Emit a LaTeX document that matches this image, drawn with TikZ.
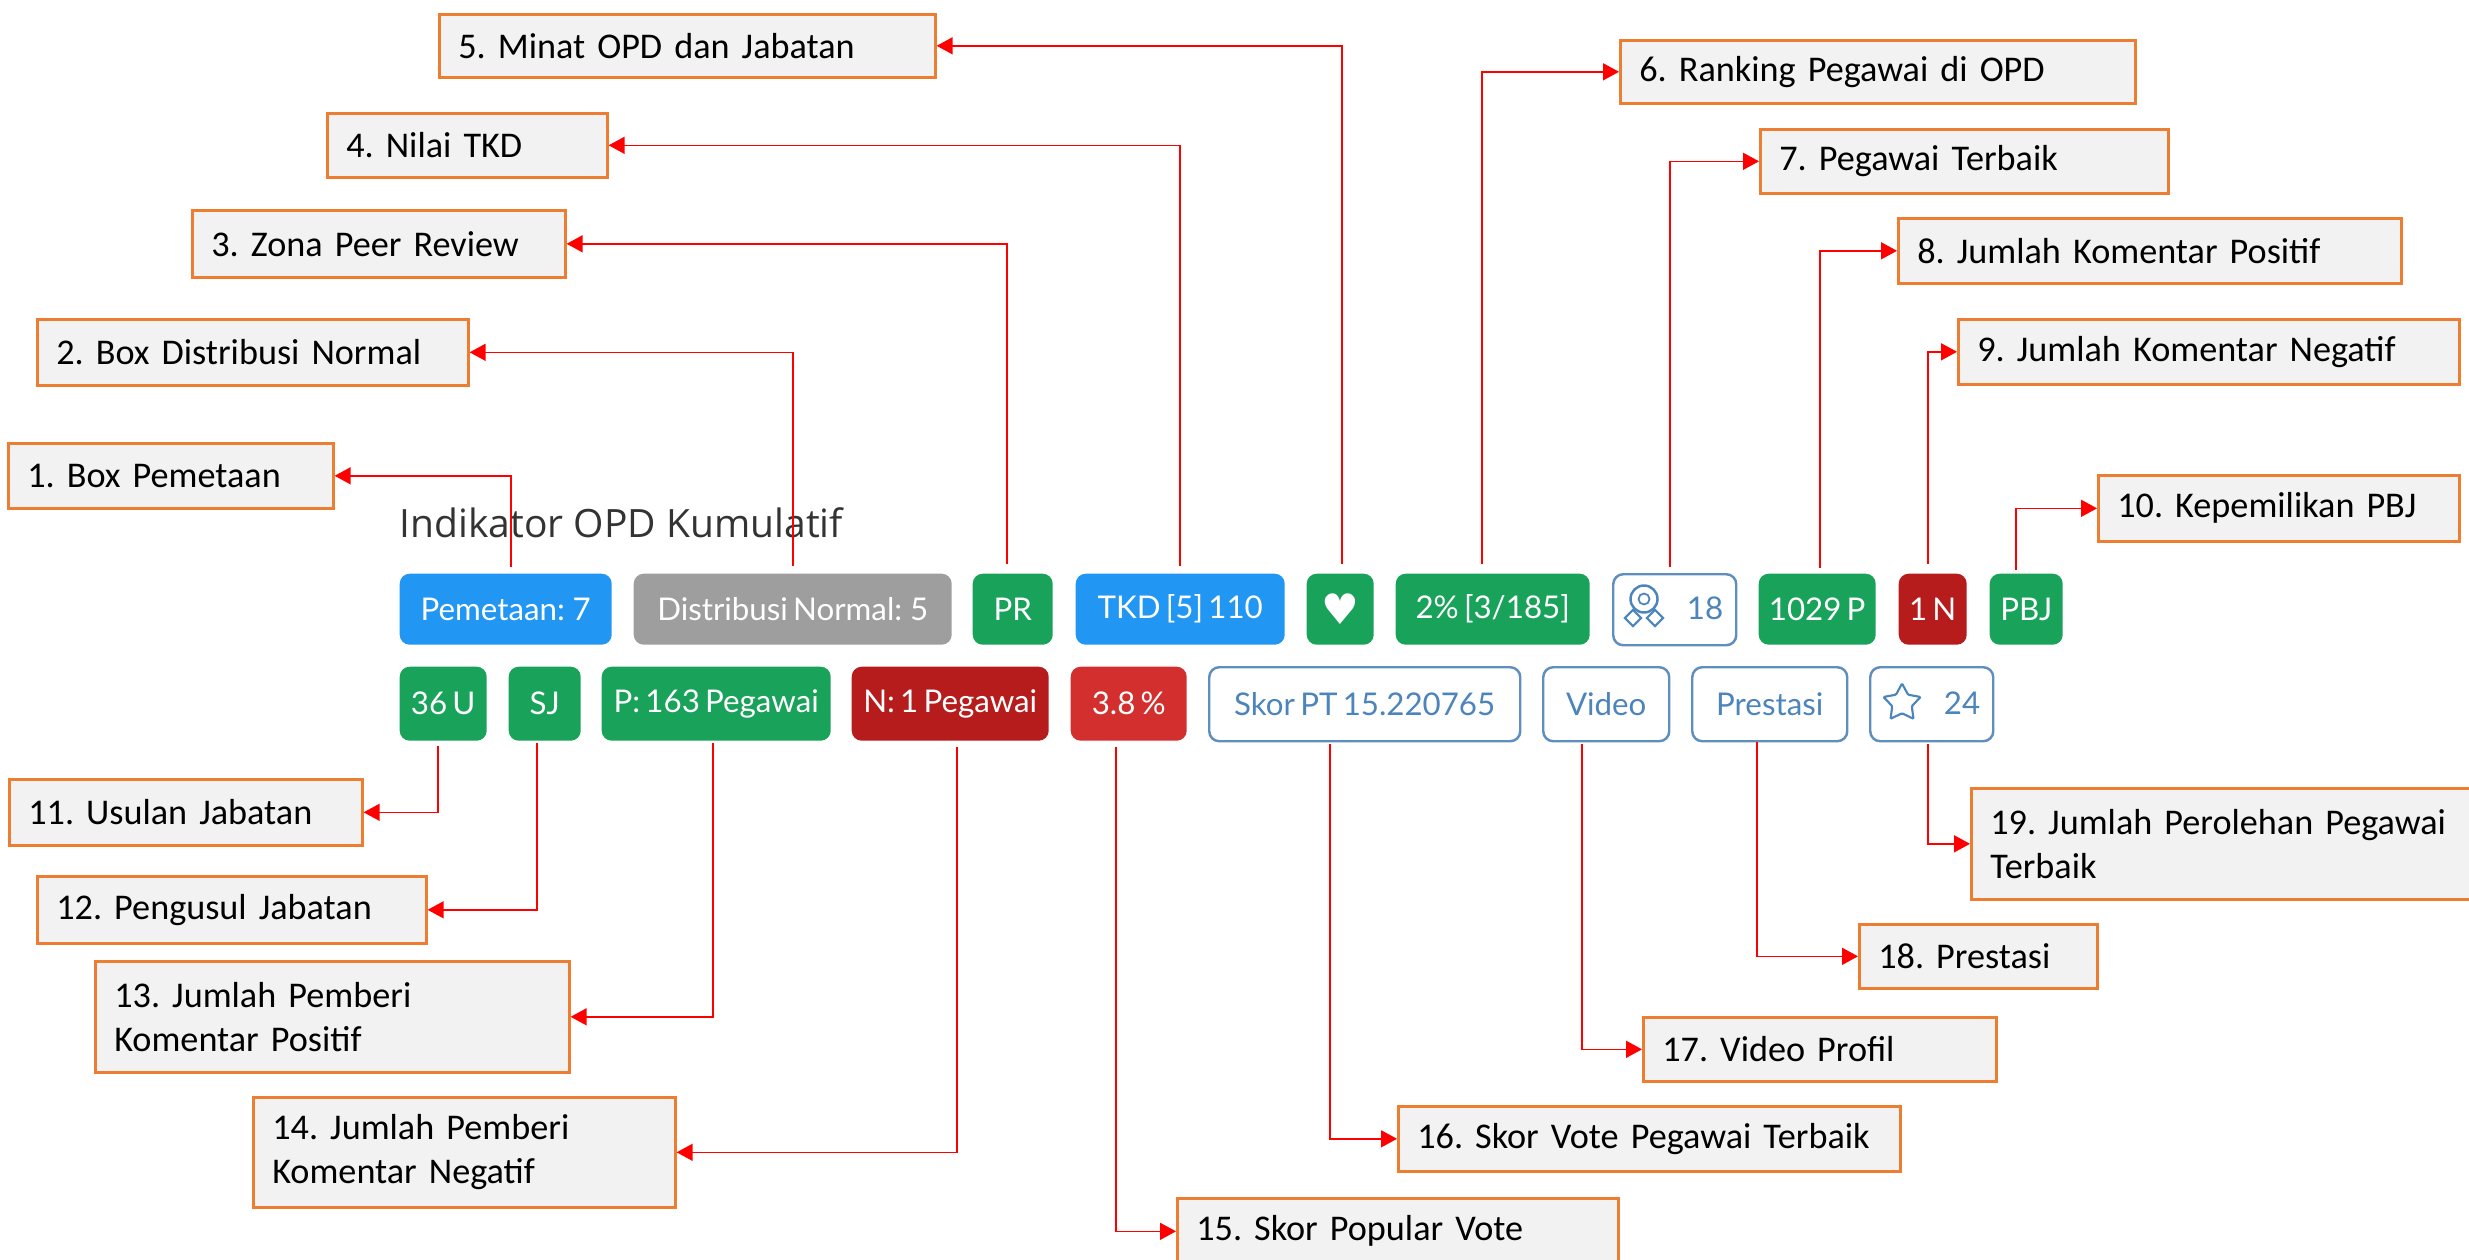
\documentclass[tikz,border=0pt]{standalone}
\usepackage{fontspec}
\setmainfont[WordSpace=0.7]{Carlito}
\newfontfamily\chipfont[WordSpace=0.65]{Lato}
\newfontfamily\titlefont{Open Sans}
\newfontfamily\symfont{DejaVu Sans}
\usepackage{xcolor}
\usepackage{tikz}
\usetikzlibrary{shapes}
\usetikzlibrary{calc}
\usetikzlibrary{arrows.meta}
\definecolor{boxfill}{HTML}{F2F2F2}
\definecolor{boxline}{HTML}{ED7D31}
\definecolor{chipblue}{HTML}{2196F3}
\definecolor{chipgray}{HTML}{9E9E9E}
\definecolor{chipgreen}{HTML}{19A25A}
\definecolor{chipdark}{HTML}{B71C1C}
\definecolor{chipred}{HTML}{D32F2F}
\definecolor{chipline}{HTML}{5F8FBF}
\definecolor{chiptext}{HTML}{4C84BC}
\tikzset{
  lbl/.style 2 args={draw=boxline,fill=boxfill,line width=0.75pt,anchor=north west,align=left,
    inner xsep=0.19cm,inner ysep=0pt,minimum width=#1cm,text width=#1cm-0.38cm,minimum height=#2cm,
    font=\frenchspacing\fontsize{10.3}{12.5}\selectfont},
  chip/.style 2 args={rounded corners=0.1cm,anchor=north west,inner sep=0pt,minimum width=#1cm,minimum height=#2cm,
    font=\chipfont\fontsize{8.9}{10}\selectfont},
  solidchip/.style={text=white},
  linechip/.style={draw=chipline,line width=0.7pt,fill=white,text=chiptext},
  chipnum/.style={inner sep=0pt,text=chiptext,font=\chipfont\fontsize{8.9}{10}\selectfont},
  conn/.style={draw=red,line width=0.45pt,-{Triangle[length=0.16cm,width=0.17cm]}}
}
\begin{document}
\begin{tikzpicture}
\useasboundingbox (0,0) rectangle (24.69,-12.59);
\node[anchor=west,inner sep=0pt,text=black!80,font=\titlefont\fontsize{11.1}{13}\selectfont] (title) at (3.99,-5.23) {Indikator OPD Kumulatif};

\node[chip={2.12}{0.71},solidchip,fill=chipblue] (pemetaan) at (3.99,-5.73) {Pemetaan: 7};
\node[chip={3.18}{0.71},solidchip,fill=chipgray] (distribusi) at (6.33,-5.73) {Distribusi Normal: 5};
\node[chip={0.80}{0.71},solidchip,fill=chipgreen] (pr) at (9.72,-5.73) {PR};
\node[chip={2.09}{0.71},solidchip,fill=chipblue] (tkd) at (10.75,-5.73) {TKD [5] 110};
\node[chip={0.67}{0.71},solidchip,fill=chipgreen] (minat) at (13.06,-5.73) {\symfont\fontsize{12}{12}\selectfont ♥};
\node[chip={1.94}{0.71},solidchip,fill=chipgreen] (ranking) at (13.95,-5.73) {2\% [3/185]};
\node[chip={1.23}{0.71},linechip] (terbaik) at (16.12,-5.73) {};
\node[chip={1.17}{0.71},solidchip,fill=chipgreen] (positif) at (17.58,-5.73) {1029 P};
\node[chip={0.68}{0.71},solidchip,fill=chipdark] (negatif) at (18.98,-5.73) {1 N};
\node[chip={0.73}{0.71},solidchip,fill=chipgreen] (pbj) at (19.89,-5.73) {PBJ};

\node[chip={0.87}{0.74},solidchip,fill=chipgreen] (usulan) at (3.99,-6.66) {36 U};
\node[chip={0.72}{0.74},solidchip,fill=chipgreen] (pengusul) at (5.08,-6.66) {SJ};
\node[chip={2.29}{0.74},solidchip,fill=chipgreen] (pemberip) at (6.01,-6.66) {P: 163 Pegawai};
\node[chip={1.97}{0.74},solidchip,fill=chipdark] (pemberin) at (8.51,-6.66) {N: 1 Pegawai};
\node[chip={1.16}{0.74},solidchip,fill=chipred] (popular) at (10.70,-6.66) {3.8 \%};
\node[chip={3.11}{0.74},linechip] (skorpt) at (12.08,-6.66) {Skor PT 15.220765};
\node[chip={1.26}{0.74},linechip] (video) at (15.42,-6.66) {Video};
\node[chip={1.55}{0.74},linechip] (prestasi) at (16.91,-6.66) {Prestasi};
\node[chip={1.23}{0.74},linechip] (perolehan) at (18.69,-6.66) {};

\node[chipnum] (n18) at (17.05,-6.08) {18};
\node[chipnum] (n24) at (19.62,-7.03) {24};
\node[draw=chiptext,line width=0.6pt,star,star points=5,star point ratio=1.9,rounded corners=0.3pt,inner sep=0pt,minimum size=0.39cm] (staricon) at (19.02,-7.03) {};
\node[draw=chiptext,line width=0.7pt,circle,inner sep=0pt,minimum size=0.27cm] (medal) at (16.44,-5.99) {};
\node[draw=chiptext,line width=0.5pt,circle,inner sep=0pt,minimum size=0.11cm] (medalin) at (16.44,-5.99) {};
\node[draw=chiptext,line width=0.6pt,diamond,inner sep=0pt,minimum size=0.17cm] (ribbonl) at (16.33,-6.18) {};
\node[draw=chiptext,line width=0.6pt,diamond,inner sep=0pt,minimum size=0.17cm] (ribbonr) at (16.55,-6.18) {};

\node[lbl={3.25}{0.65}] (b1) at (0.07,-4.42) {1. Box Pemetaan};
\node[lbl={4.31}{0.66}] (b2) at (0.36,-3.18) {2. Box Distribusi Normal};
\node[lbl={3.73}{0.67}] (b3) at (1.91,-2.09) {3. Zona Peer Review};
\node[lbl={2.80}{0.64}] (b4) at (3.26,-1.12) {4. Nilai TKD};
\node[lbl={4.96}{0.63}] (b5) at (4.38,-0.13) {5. Minat OPD dan Jabatan};
\node[lbl={5.15}{0.63}] (b6) at (16.19,-0.39) {6. Ranking Pegawai di OPD};
\node[lbl={4.08}{0.64}] (b7) at (17.59,-1.28) {7. Pegawai Terbaik};
\node[lbl={5.03}{0.65}] (b8) at (18.97,-2.17) {8. Jumlah Komentar Positif};
\node[lbl={5.01}{0.65}] (b9) at (19.57,-3.18) {9. Jumlah Komentar Negatif};
\node[lbl={3.61}{0.66}] (b10) at (20.97,-4.74) {10. Kepemilikan PBJ};
\node[lbl={3.53}{0.66}] (b11) at (0.08,-7.78) {11. Usulan Jabatan};
\node[lbl={3.89}{0.67}] (b12) at (0.36,-8.75) {12. Pengusul Jabatan};
\node[lbl={4.74}{1.11}] (b13) at (0.94,-9.60) {13. Jumlah Pemberi\\Komentar Positif};
\node[lbl={4.22}{1.10}] (b14) at (2.52,-10.96) {14. Jumlah Pemberi\\Komentar Negatif};
\node[lbl={4.41}{0.66}] (b15) at (11.76,-11.97) {15. Skor Popular Vote};
\node[lbl={5.02}{0.65}] (b16) at (13.97,-11.05) {16. Skor Vote Pegawai Terbaik};
\node[lbl={3.53}{0.64}] (b17) at (16.42,-10.16) {17. Video Profil};
\node[lbl={2.38}{0.64}] (b18) at (18.58,-9.23) {18. Prestasi};
\node[lbl={5.05}{1.11}] (b19) at (19.70,-7.87) {19. Jumlah Perolehan Pegawai\\Terbaik};

\draw[conn] ($(pemetaan.north)+(0.05,0.06)$) |- (b1.east);
\draw[conn] ($(distribusi.north)+(0,0.07)$) |- (b2.east);
\draw[conn] ($(pr.north)+(-0.06,0.09)$) |- (b3.east);
\draw[conn] ($(tkd.north)+(0,0.07)$) |- (b4.east);
\draw[conn] ($(minat.north)+(0.015,0.09)$) |- (b5.east);
\draw[conn] ($(ranking.north)+(-0.11,0.09)$) |- (b6.west);
\draw[conn] ($(terbaik.north)+(-0.045,0.06)$) |- (b7.west);
\draw[conn] ($(positif.north)+(0.03,0.05)$) |- (b8.west);
\draw[conn] ($(negatif.north)+(-0.05,0.09)$) |- (b9.west);
\draw[conn] ($(pbj.north)+(-0.105,0.03)$) |- (b10.west);
\draw[conn] ($(usulan.south)+(-0.055,-0.05)$) |- (b11.east);
\draw[conn] ($(pengusul.south)+(-0.08,-0.02)$) |- (b12.east);
\draw[conn] ($(pemberip.south)+(-0.035,-0.02)$) |- (b13.east);
\draw[conn] ($(pemberin.south)+(0.07,-0.06)$) |- (b14.east);
\draw[conn] ($(popular.south)+(-0.13,-0.06)$) |- (b15.west);
\draw[conn] ($(skorpt.south)+(-0.345,-0.02)$) |- (b16.west);
\draw[conn] ($(video.south)+(-0.24,-0.02)$) |- (b17.west);
\draw[conn] ($(prestasi.south)+(-0.125,0)$) |- (b18.west);
\draw[conn] ($(perolehan.south)+(-0.035,-0.02)$) |- (b19.west);
\end{tikzpicture}
\end{document}
